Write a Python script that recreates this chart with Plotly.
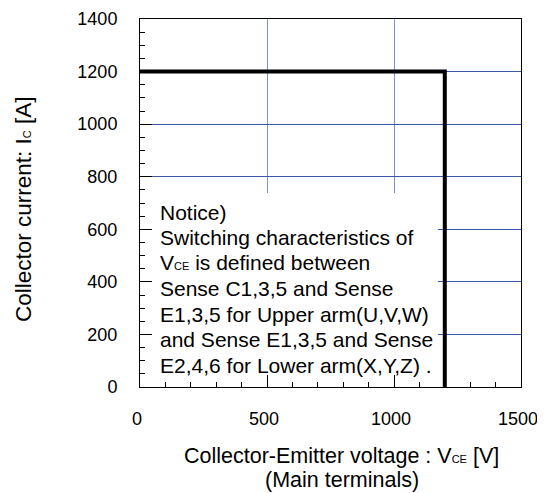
import plotly.graph_objects as go

# Data
vce = [0, 1200, 1200]
ic = [1200, 1200, 0]
x_ticks = [0, 500, 1000, 1500]
y_ticks = [0, 200, 400, 600, 800, 1000, 1200, 1400]

notice_lines = [
    "Notice)",
    "Switching characteristics of",
    "V<span style=\"font-size:11px\">CE</span> is defined between",
    "Sense C1,3,5 and Sense",
    "E1,3,5 for Upper arm(U,V,W)",
    "and Sense E1,3,5 and Sense",
    "E2,4,6 for Lower arm(X,Y,Z) .",
]
y_title = "Collector current: I<span style=\"font-size:11px\">C</span> [A]"
x_title_lines = [
    "Collector-Emitter voltage : V<span style=\"font-size:11px\">CE</span> [V]",
    "(Main terminals)",
]

FONT = "Arial, Liberation Sans, sans-serif"

# page body has 8px margin -> figure is shifted by 8px
W, H = 537, 485
L, R, T, B = 132, 24, 11, 106
PW, PH = W - L - R, H - T - B

fig = go.Figure()
fig.add_trace(go.Scatter(x=vce, y=ic, mode="lines",
                         line=dict(color="black", width=4),
                         showlegend=False, hoverinfo="skip"))

axis_common = dict(
    showline=True, linecolor="black", linewidth=1, mirror=True,
    ticks="inside", ticklen=12, tickcolor="black", tickwidth=1,
    showgrid=True,
    zeroline=False, automargin=False,
    tickfont=dict(family=FONT, size=18, color="black"),
)

fig.update_xaxes(range=[0, 1500], tickvals=x_ticks, ticklabelstandoff=15, ticklabelshift=-3,
                 gridcolor="#7b91cc", gridwidth=1.3,
                 minor=dict(dtick=100, ticks="inside", ticklen=5, tickcolor="black", showgrid=False),
                 **axis_common)
fig.update_yaxes(range=[0, 1400], tickvals=y_ticks, ticklabelstandoff=18,
                 gridcolor="#3a58aa", gridwidth=1,
                 minor=dict(dtick=50, ticks="inside", ticklen=5, tickcolor="black", showgrid=False),
                 **axis_common)

# white box behind the notice text
fig.add_shape(type="rect", xref="x", yref="y", x0=0, x1=1173, y0=42, y1=738,
              fillcolor="white", line=dict(width=0), layer="between")

first_line_px = 193   # distance of first line centre below plot top
spacing_px = 25.5
for i, line in enumerate(notice_lines):
    ypx = first_line_px + i * spacing_px
    fig.add_annotation(xref="paper", yref="paper", x=19 / PW, y=1 - ypx / PH,
                       xanchor="left", yanchor="middle", align="left", showarrow=False,
                       text=line, borderpad=0,
                       font=dict(family=FONT, size=21, color="black"))

fig.add_annotation(xref="paper", yref="paper", x=-0.304, y=0.484,
                   xanchor="center", yanchor="middle", showarrow=False, textangle=-90,
                   text=y_title, borderpad=0,
                   font=dict(family=FONT, size=22.5, color="black"))

for i, (line, yy) in enumerate(zip(x_title_lines, [-0.1875, -0.2527])):
    fig.add_annotation(xref="paper", yref="paper", x=0.529, y=yy,
                       xanchor="center", yanchor="middle", showarrow=False,
                       text=line, borderpad=0,
                       font=dict(family=FONT, size=21.5, color="black"))

fig.update_layout(
    width=W, height=H,
    margin=dict(l=L, r=R, t=T, b=B),
    plot_bgcolor="white", paper_bgcolor="white",
    showlegend=False,
)

fig.write_html("out.html")
